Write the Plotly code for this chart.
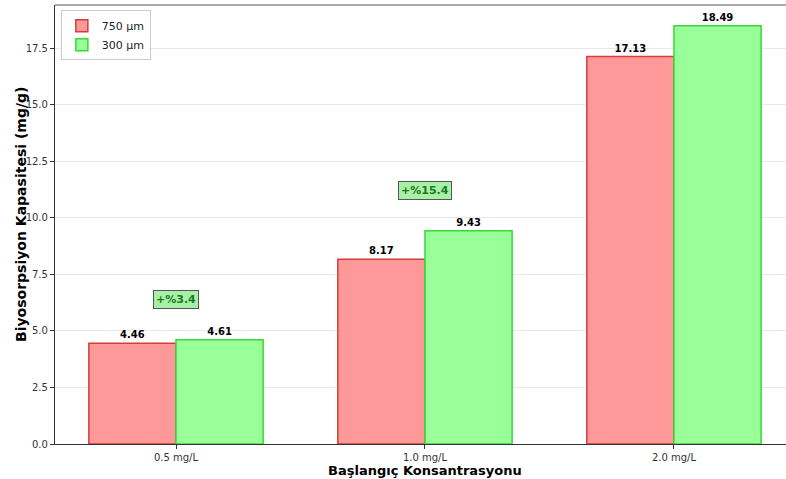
import plotly.graph_objects as go

categories = ["0.5 mg/L", "1.0 mg/L", "2.0 mg/L"]
vals_750 = [4.46, 8.17, 17.13]
vals_300 = [4.61, 9.43, 18.49]
increase_labels = ["+%3.4", "+%15.4", None]
tick_vals = [0, 2.5, 5, 7.5, 10, 12.5, 15, 17.5]

xpos = list(range(len(categories)))

fig = go.Figure()
fig.add_trace(go.Bar(
    x=xpos, y=vals_750, name="750 µm",
    marker=dict(color="#FF9999", line=dict(color="#D63C3C", width=1.5)),
    text=[f"{v:.2f}" for v in vals_750], textposition="outside",
    textfont=dict(family="DejaVu Sans", size=10, color="black", weight="bold"),
    cliponaxis=False,
))
fig.add_trace(go.Bar(
    x=xpos, y=vals_300, name="300 µm",
    marker=dict(color="#99FF99", line=dict(color="#38D838", width=1.5)),
    text=[f"{v:.2f}" for v in vals_300], textposition="outside",
    textfont=dict(family="DejaVu Sans", size=10, color="black", weight="bold"),
    cliponaxis=False,
))

for i, lab in enumerate(increase_labels):
    if lab is None:
        continue
    ymax = max(vals_750[i], vals_300[i])
    fig.add_annotation(
        x=xpos[i], y=ymax + 1.8, text=f"<b>{lab}</b>", showarrow=False,
        font=dict(family="DejaVu Sans", size=11, color="#1a7a1a"),
        bgcolor="#A8F0A8", bordercolor="#555555", borderwidth=1, borderpad=2,
    )

# axis titles
fig.add_annotation(xref="paper", yref="paper", x=(425 - 55) / 731, y=-26 / 439,
                   xanchor="center", yanchor="middle", showarrow=False,
                   text="<b>Başlangıç Konsantrasyonu</b>",
                   font=dict(family="DejaVu Sans", size=13, color="black"))
fig.add_annotation(xref="paper", yref="paper", x=-34 / 731, y=(444 - 215) / 439,
                   xanchor="center", yanchor="middle", showarrow=False, textangle=-90,
                   text="<b>Biyosorpsiyon Kapasitesi (mg/g)</b>",
                   font=dict(family="DejaVu Sans", size=14, color="black"))

fig.add_shape(type="line", xref="paper", yref="paper", x0=0, x1=1, y0=1, y1=1,
              line=dict(color="#555555", width=1.2))

fig.update_layout(
    width=786, height=479,
    margin=dict(l=55, r=0, t=5, b=35, autoexpand=False),
    paper_bgcolor="white", plot_bgcolor="white",
    barmode="group", bargap=0.3, bargroupgap=0,
    font=dict(family="DejaVu Sans", size=10, color="#333333"),
    showlegend=True,
    legend=dict(x=0.008, y=0.988, xanchor="left", yanchor="top",
                bgcolor="rgba(255,255,255,0.9)", bordercolor="#CCCCCC", borderwidth=1,
                font=dict(family="DejaVu Sans", size=11, color="#222222"),
                tracegroupgap=0, itemwidth=30),
    xaxis=dict(
        tickmode="array", tickvals=xpos, ticktext=categories,
        range=[-0.486, 2.45], showgrid=False, zeroline=False, automargin=False,
        showline=True, linecolor="#333333", linewidth=1.2,
        ticks="outside", ticklen=4, tickcolor="#333333",
        tickfont=dict(size=10, color="#333333"),
    ),
    yaxis=dict(
        range=[0, 19.41], tickmode="array", tickvals=tick_vals,
        ticktext=[f"{v:.1f}" for v in tick_vals], automargin=False,
        showgrid=True, gridcolor="#E8E8E8", gridwidth=1, zeroline=False,
        showline=True, linecolor="#333333", linewidth=1.2,
        ticks="outside", ticklen=4, tickcolor="#333333",
        tickfont=dict(size=10, color="#333333"),
    ),
)

fig.write_html("out.html", config={"displayModeBar": False},
               post_script="document.body.style.margin='0';document.body.style.overflow='hidden';")
